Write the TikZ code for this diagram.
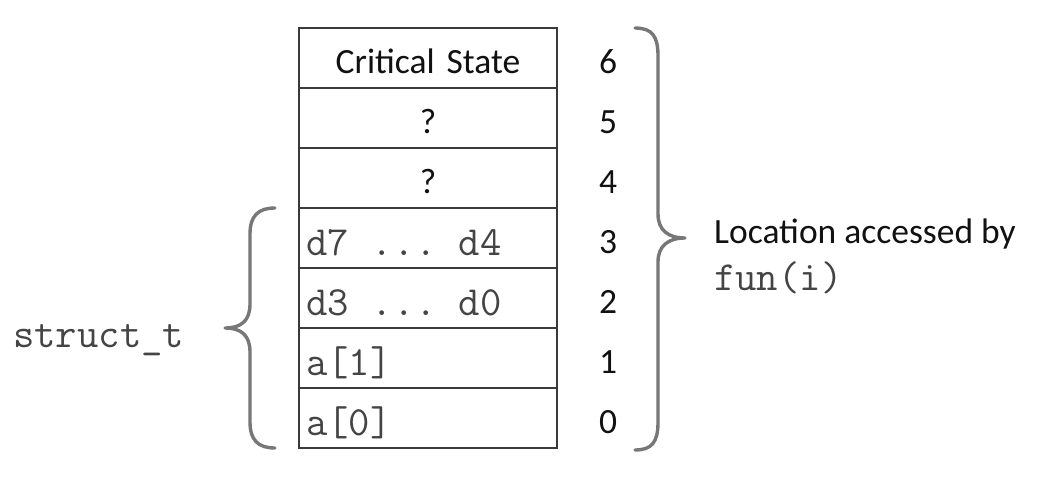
\documentclass[tikz,border=0pt]{standalone}
\usepackage{fontspec}
\setmainfont{Carlito}
\definecolor{boxline}{HTML}{3A3A3A}
\definecolor{bracecol}{HTML}{777777}
\definecolor{monotext}{HTML}{444444}
\definecolor{sanstext}{HTML}{111111}
\newcommand{\mch}[1]{\makebox[0.525em][c]{#1}}
\tikzset{
  cellbox/.style={draw=boxline, line width=2.4pt, minimum width=258pt, minimum height=60pt, inner sep=0pt, outer sep=0pt, text width=244pt},
  cellc/.style={cellbox, align=center, font=\fontsize{35.5}{40}\selectfont, text=sanstext, text height=30pt, text depth=0pt},
  cellm/.style={cellbox, align=left, font=\ttfamily\fontsize{41.5}{44}\selectfont, text=monotext, text height=34pt, text depth=0pt},
  idx/.style={font=\fontsize{35.5}{40}\selectfont, text=sanstext, inner sep=0pt, anchor=base},
  bracepath/.style={draw=bracecol, line width=3.4pt, line cap=round, line join=round},
}
\begin{document}
\begin{tikzpicture}[x=1pt,y=-1pt]
\useasboundingbox (0,0) rectangle (1046,479);
% cells
\node[cellc] (r6) at (428,58) {Critical State};
\node[cellc] (r5) at (428,118) {?};
\node[cellc] (r4) at (428,178) {?};
\node[cellm] (r3) at (428,238) {\mch{d}\mch{7}\mch{ }\mch{.}\mch{.}\mch{.}\mch{ }\mch{d}\mch{4}};
\node[cellm] (r2) at (428,298) {\mch{d}\mch{3}\mch{ }\mch{.}\mch{.}\mch{.}\mch{ }\mch{d}\mch{0}};
\node[cellm] (r1) at (428,358) {a[1]};
\node[cellm] (r0) at (428,418) {a[0]};
% indices
\node[idx] (n6) at (608,73) {6};
\node[idx] (n5) at (608,133) {5};
\node[idx] (n4) at (608,193) {4};
\node[idx] (n3) at (608,253) {3};
\node[idx] (n2) at (608,313) {2};
\node[idx] (n1) at (608,373) {1};
\node[idx] (n0) at (608,433) {0};
% right brace
\draw[bracepath] (635,28) .. controls (652,28) and (658,36) .. (658,56) -- (658,214) .. controls (658,230) and (668,238) .. (685,238) .. controls (668,238) and (658,246) .. (658,262) -- (658,422) .. controls (658,442) and (652,450) .. (635,450);
% left brace
\draw[bracepath] (275,208) .. controls (258,208) and (250,216) .. (250,234) -- (250,304) .. controls (250,320) and (242,328) .. (225,328) .. controls (242,328) and (250,336) .. (250,352) -- (250,422) .. controls (250,440) and (258,448) .. (275,448);
% labels
\node[anchor=base west, font=\ttfamily\fontsize{41.5}{44}\selectfont, text=monotext, inner sep=0pt] (st) at (13,347) {struct\_t};
\node[anchor=base west, font=\fontsize{35.5}{40}\selectfont, text=sanstext, inner sep=0pt] (loc) at (714,243) {Location accessed by};
\node[anchor=base west, font=\ttfamily\fontsize{41.5}{44}\selectfont, text=monotext, inner sep=0pt] (fun) at (714,290) {fun(i)};
\end{tikzpicture}
\end{document}
